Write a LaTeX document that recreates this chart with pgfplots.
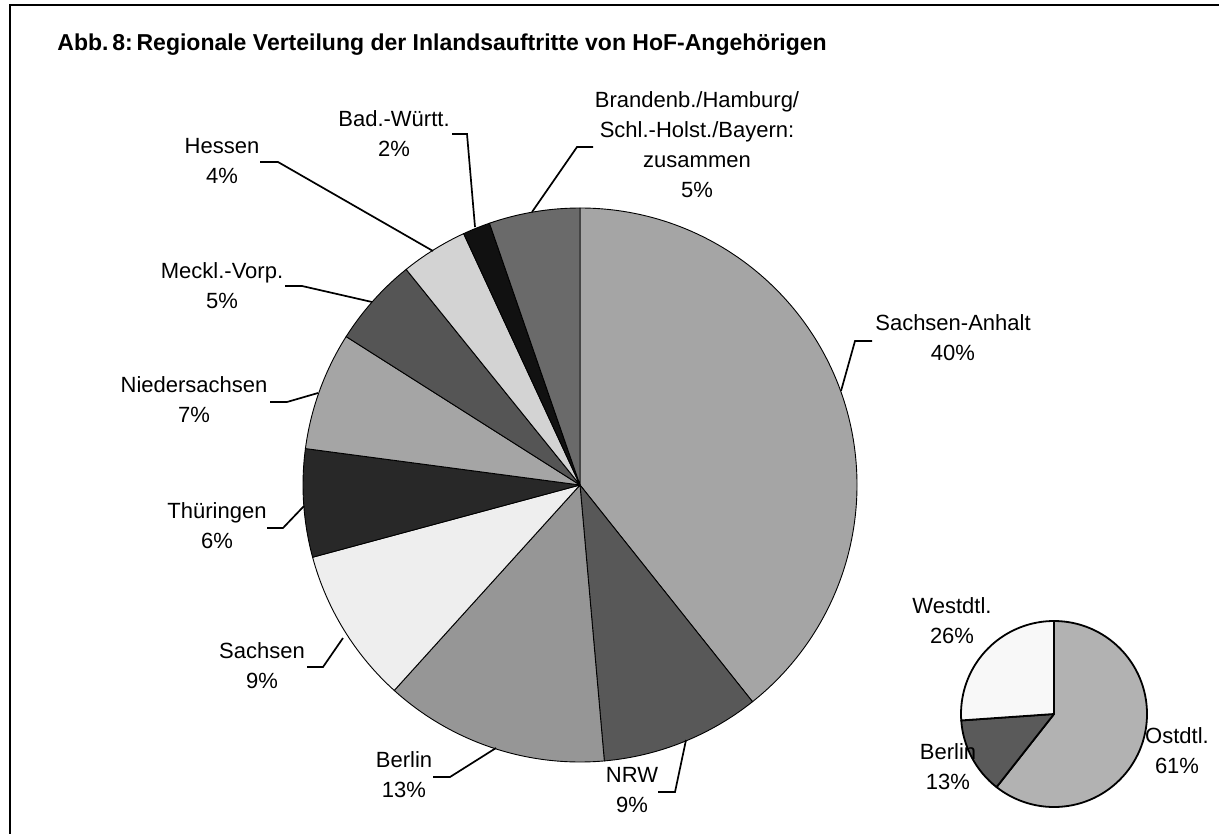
\documentclass[border=0pt]{standalone}
\usepackage{pgfplots}
\pgfplotsset{compat=1.18}
\usepackage{fontspec}
\setmainfont{Liberation Sans}

% fill colours
\definecolor{cSA}{RGB}{165,165,165}
\definecolor{cNRW}{RGB}{88,88,88}
\definecolor{cBE}{RGB}{150,150,150}
\definecolor{cSN}{RGB}{238,238,238}
\definecolor{cTH}{RGB}{40,40,40}
\definecolor{cNI}{RGB}{165,165,165}
\definecolor{cMV}{RGB}{85,85,85}
\definecolor{cHE}{RGB}{211,211,211}
\definecolor{cBW}{RGB}{17,17,17}
\definecolor{cBR}{RGB}{106,106,106}
\definecolor{cOst}{RGB}{178,178,178}
\definecolor{cBer}{RGB}{90,90,90}
\definecolor{cWest}{RGB}{248,248,248}

% shares in percent (clockwise from 12 o'clock) / fill colour
\def\bigpie{39.3/cSA, 9.3/cNRW, 13.1/cBE, 9.1/cSN, 6.3/cTH, 6.9/cNI, 5.2/cMV, 3.9/cHE, 1.6/cBW, 5.3/cBR}
\def\smallpie{60.6/cOst, 13.3/cBer, 26.1/cWest}

\newcommand\piechart[5]{% #1 cx, #2 cy, #3 radius (px), #4 line width, #5 list
  \gdef\cum{0}%
  \foreach \val/\col in #5 {%
    \pgfmathsetmacro\angA{90-3.6*\cum}%
    \pgfmathsetmacro\angB{90-3.6*(\cum+\val)}%
    \pgfmathsetmacro\rad{#3*0.5}%
    \edef\temp{\noexpand\filldraw[fill=\col,draw=black,line width=#4,line join=round] (axis cs:#1,#2) -- ++(\angA:\rad pt) arc[start angle=\angA,end angle=\angB,radius=\rad pt] -- cycle;}%
    \temp
    \pgfmathsetmacro\nc{\cum+\val}%
    \global\let\cum\nc
  }%
}

\tikzset{lbl/.style={font=\fontsize{11}{15}\selectfont, align=center, inner sep=0pt}}

\begin{document}
\begin{tikzpicture}
\begin{axis}[
  x=0.5pt, y=0.5pt, y dir=reverse,
  xmin=0, xmax=1219, ymin=0, ymax=834,
  hide axis, clip=false,
]
\path[fill=white] (axis cs:0,0) rectangle (axis cs:1219,834);
\coordinate (BL) at (axis cs:0,834);
\coordinate (TR) at (axis cs:1219,0);
\draw[line width=1.1pt] (axis cs:10,840) -- (axis cs:10,5) -- (axis cs:1225,5);

\node[anchor=west, inner sep=0pt, font=\fontsize{11.5}{13}\selectfont\bfseries] at (axis cs:57,45)
  {Abb.\,8:\,Regionale Verteilung der Inlandsauftritte von HoF-Angehörigen};

\piechart{580}{485}{277}{0.45pt}{\bigpie}
\piechart{1054}{714}{93}{0.9pt}{\smallpie}

% leader lines
\begin{scope}[line width=0.85pt]
\draw (axis cs:593,147) -- (axis cs:577,147) -- (axis cs:532,212);
\draw (axis cs:452,134) -- (axis cs:467,134) -- (axis cs:475,227);
\draw (axis cs:260,162) -- (axis cs:278,162) -- (axis cs:433,251);
\draw (axis cs:285,286) -- (axis cs:302,286) -- (axis cs:372,302);
\draw (axis cs:270,402) -- (axis cs:287,402) -- (axis cs:318,393);
\draw (axis cs:267,528) -- (axis cs:283,528) -- (axis cs:304,506);
\draw (axis cs:307,667) -- (axis cs:323,667) -- (axis cs:343,638);
\draw (axis cs:433,777) -- (axis cs:450,777) -- (axis cs:496,748);
\draw (axis cs:658,792) -- (axis cs:675,792) -- (axis cs:686,740);
\draw (axis cs:872,341) -- (axis cs:855,341) -- (axis cs:841,391);
\end{scope}

% labels
\node[lbl] at (axis cs:697,145) {Brandenb./Hamburg/\\Schl.-Holst./Bayern:\\zusammen\\5\%};
\node[lbl] at (axis cs:394,134) {Bad.-Württ.\\2\%};
\node[lbl] at (axis cs:222,161) {Hessen\\4\%};
\node[lbl] at (axis cs:222,286) {Meckl.-Vorp.\\5\%};
\node[lbl] at (axis cs:194,400) {Niedersachsen\\7\%};
\node[lbl] at (axis cs:217,526) {Thüringen\\6\%};
\node[lbl] at (axis cs:262,666) {Sachsen\\9\%};
\node[lbl] at (axis cs:404,775) {Berlin\\13\%};
\node[lbl] at (axis cs:632,790) {NRW\\9\%};
\node[lbl] at (axis cs:953,338) {Sachsen-Anhalt\\40\%};
\node[lbl] at (axis cs:952,621) {Westdtl.\\26\%};
\node[lbl] at (axis cs:948,767) {Berlin\\13\%};
\node[lbl] at (axis cs:1177,751) {Ostdtl.\\61\%};
\end{axis}
\pgfresetboundingbox
\path[use as bounding box] (BL) rectangle (TR);
\end{tikzpicture}
\end{document}
